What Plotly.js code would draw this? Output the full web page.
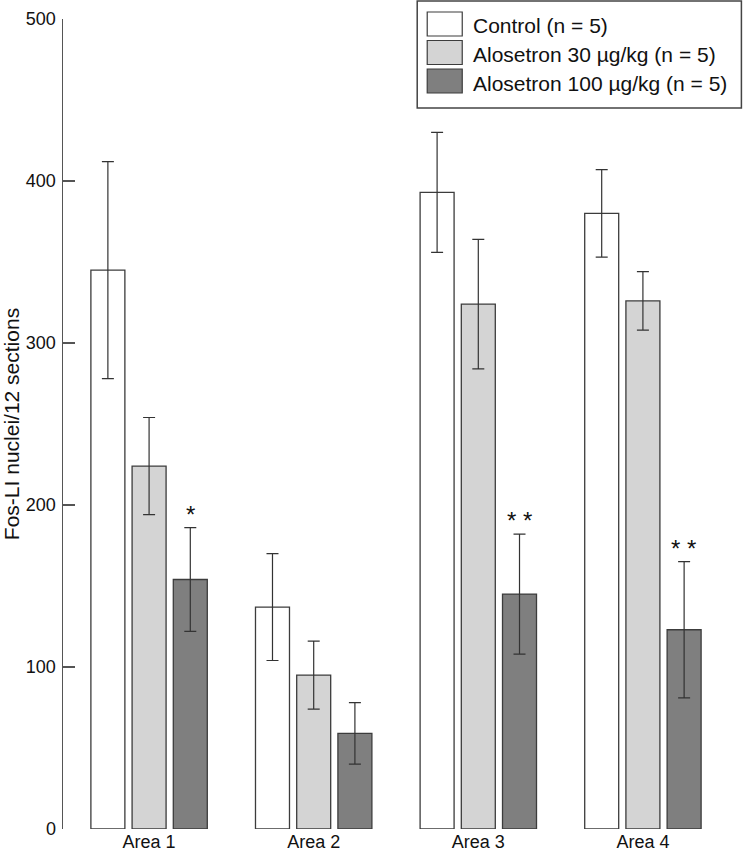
<!DOCTYPE html>
<html>
<head>
<meta charset="utf-8">
<script src="https://cdn.plot.ly/plotly-3.0.1.min.js"></script>
<style>html,body{margin:0;padding:0;background:#fff;}#chart{width:744px;height:853px;}</style>
</head>
<body>
<div id="chart"></div>
<script>
// Data
const categories = ["Area 1", "Area 2", "Area 3", "Area 4"];
const seriesNames = ["Control (n = 5)", "Alosetron 30 \u00b5g/kg (n = 5)", "Alosetron 100 \u00b5g/kg (n = 5)"];
const controlValues = [345, 137, 393, 380];
const controlErrors = [67, 33, 37, 27];
const alo30Values = [224, 95, 324, 326];
const alo30Errors = [30, 21, 40, 18];
const alo100Values = [154, 59, 145, 123];
const alo100Errors = [32, 19, 37, 42];
const significance = ["*", "", "**", "**"];
const yTicks = [0, 100, 200, 300, 400, 500];

const fills = ["#ffffff", "#d4d4d4", "#7f7f7f"];
const edge = "#3c3c3c";
const FONT = "Liberation Sans, Arial, sans-serif";

function barTrace(name, values, errors, fill) {
  return {
    type: "bar",
    name: name,
    x: categories,
    y: values,
    marker: {color: fill, line: {color: edge, width: 1.3}},
    error_y: {type: "data", array: errors, visible: true, color: "#333", thickness: 1.2, width: 6},
    showlegend: false,
    hoverinfo: "x+y"
  };
}

const data = [
  barTrace(seriesNames[0], controlValues, controlErrors, fills[0]),
  barTrace(seriesNames[1], alo30Values, alo30Errors, fills[1]),
  barTrace(seriesNames[2], alo100Values, alo100Errors, fills[2])
];

const annotations = [];
categories.forEach((c, i) => {
  if (significance[i]) {
    annotations.push({
      x: c, xref: "x", y: alo100Values[i] + alo100Errors[i], yref: "y",
      xshift: 41, yshift: -2, yanchor: "bottom",
      text: significance[i].split("").join(" "), showarrow: false,
      font: {family: FONT, size: 24, color: "#111"}
    });
  }
});

// custom legend (large swatches, as in the reference)
const shapes = [{
  type: "rect", xref: "paper", yref: "paper",
  x0: (417 - 63) / 665.6, x1: (741 - 63) / 665.6,
  y0: (829 - 108) / 810, y1: (829 - 1) / 810,
  line: {color: "#444", width: 1.5}, fillcolor: "#fff"
}];
const rowCenters = [24, 52.5, 81];
seriesNames.forEach((n, i) => {
  const yc = rowCenters[i];
  shapes.push({
    type: "rect", xref: "paper", yref: "paper",
    x0: (427 - 63) / 665.6, x1: (462 - 63) / 665.6,
    y0: (829 - (yc + 12)) / 810, y1: (829 - (yc - 12)) / 810,
    line: {color: edge, width: 1.2}, fillcolor: fills[i]
  });
  annotations.push({
    xref: "paper", yref: "paper",
    x: (471 - 63) / 665.6, y: (829 - yc - 2) / 810,
    xanchor: "left", yanchor: "middle",
    text: n, showarrow: false,
    font: {family: FONT, size: 21, color: "#111"}
  });
});

const layout = {
  width: 744, height: 853,
  margin: {l: 63, r: 15.4, t: 19, b: 24, pad: 0},
  paper_bgcolor: "#fff", plot_bgcolor: "#fff",
  font: {family: FONT, color: "#111"},
  barmode: "group",
  bargap: 0.249,
  bargroupgap: 0.175,
  xaxis: {
    type: "category", range: [-0.523, 3.523],
    showline: false, showgrid: false, zeroline: false, ticks: "",
    tickfont: {family: FONT, size: 18, color: "#111"},
    automargin: false, ticklabelstandoff: 0
  },
  yaxis: {
    range: [0, 500], tickvals: yTicks, ticktext: yTicks.map(String),
    showline: true, linecolor: "#555", linewidth: 1.5,
    ticks: "inside", ticklen: 12, tickwidth: 1.5, tickcolor: "#555",
    showgrid: false, zeroline: false,
    tickfont: {family: FONT, size: 18, color: "#111"},
    ticklabelstandoff: 2,
    automargin: false,
    title: {text: "Fos-LI nuclei/12 sections", font: {family: FONT, size: 21, color: "#111"}, standoff: 8}
  },
  shapes: shapes,
  annotations: annotations
};

Plotly.newPlot("chart", data, layout, {displayModeBar: false, staticPlot: true});
</script>
</body>
</html>
